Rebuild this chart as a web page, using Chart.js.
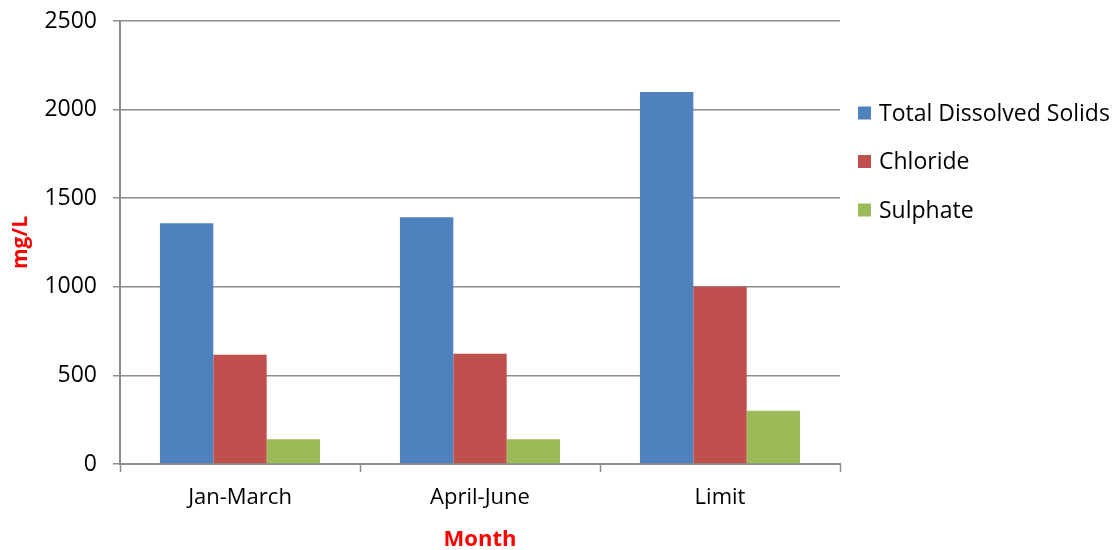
<!DOCTYPE html>
<html>
<head>
<meta charset="utf-8">
<script src="https://cdn.jsdelivr.net/npm/chart.js@4/dist/chart.umd.min.js"></script>
<style>
  html, body { margin: 0; padding: 0; background: #ffffff; }
  #wrap { width: 1118px; height: 550px; position: relative; }
</style>
</head>
<body>
<div id="wrap"><canvas id="c" width="1118" height="550"></canvas></div>
<script>
// Quarterly water-quality readings against the permitted limit (mg/L)
const categories = ['Jan-March', 'April-June', 'Limit'];
const seriesNames = ['Total Dissolved Solids', 'Chloride', 'Sulphate'];
const tdsValues = [1358, 1392, 2100];
const chlorideValues = [617, 622, 1000];
const sulphateValues = [140, 140, 300];
const seriesColors = ['#4F81BD', '#C0504D', '#9BBB59'];

const FONT = '"Open Sans", "Liberation Sans", sans-serif';
const GRID = '#8c8c8c';

// Legend drawn at the right, vertically stacked with square swatches
const sideLegend = {
  id: 'sideLegend',
  afterDraw(chart) {
    const ctx = chart.ctx;
    const x0 = 858, y0 = 113, step = 48.5, box = 13;
    ctx.save();
    ctx.font = '23px ' + FONT;
    ctx.textBaseline = 'middle';
    ctx.textAlign = 'left';
    chart.data.datasets.forEach((ds, i) => {
      const y = y0 + i * step;
      ctx.fillStyle = ds.backgroundColor;
      ctx.fillRect(x0, y - box / 2, box, box);
      ctx.fillStyle = '#000000';
      ctx.fillText(ds.label, x0 + 21, y + 1);
    });
    ctx.restore();
  }
};

new Chart(document.getElementById('c'), {
  type: 'bar',
  data: {
    labels: categories,
    datasets: [
      { label: seriesNames[0], data: tdsValues, backgroundColor: seriesColors[0] },
      { label: seriesNames[1], data: chlorideValues, backgroundColor: seriesColors[1] },
      { label: seriesNames[2], data: sulphateValues, backgroundColor: seriesColors[2] }
    ]
  },
  options: {
    responsive: false,
    animation: false,
    devicePixelRatio: 1,
    layout: { padding: { left: 0, right: 278, top: 21, bottom: 0 } },
    datasets: {
      bar: { categoryPercentage: 0.667, barPercentage: 1.0, borderWidth: 0 }
    },
    plugins: {
      legend: { display: false },
      tooltip: { enabled: false }
    },
    scales: {
      x: {
        grid: {
          display: true,
          offset: true,
          drawOnChartArea: false,
          drawTicks: true,
          tickLength: 8,
          tickWidth: 1.5,
          tickColor: GRID
        },
        border: { display: true, color: GRID, width: 2 },
        ticks: {
          color: '#000000',
          font: { family: FONT, size: 22 },
          padding: 13
        },
        title: {
          display: true,
          text: 'Month',
          color: '#FF0000',
          font: { family: FONT, size: 22, weight: 'bold' },
          padding: { top: 11, bottom: -3 }
        },
        afterFit(scale) {
          scale.height = 86;
          scale.paddingLeft = 0;
          scale.paddingRight = 0;
        }
      },
      y: {
        min: 0,
        max: 2500,
        ticks: {
          stepSize: 500,
          color: '#000000',
          font: { family: FONT, size: 23 },
          padding: 16,
          callback: (v) => String(v)
        },
        grid: {
          color: GRID,
          lineWidth: 1.5,
          drawTicks: true,
          tickLength: 7,
          tickColor: GRID
        },
        border: { display: true, color: GRID, width: 2 },
        title: {
          display: true,
          text: 'mg/L',
          color: '#FF0000',
          font: { family: FONT, size: 21, weight: 'bold' },
          padding: { top: 8, bottom: 10 }
        },
        afterFit(scale) {
          scale.width = 120;
          scale.paddingTop = 0;
          scale.paddingBottom = 0;
        }
      }
    }
  },
  plugins: [sideLegend]
});
</script>
</body>
</html>
